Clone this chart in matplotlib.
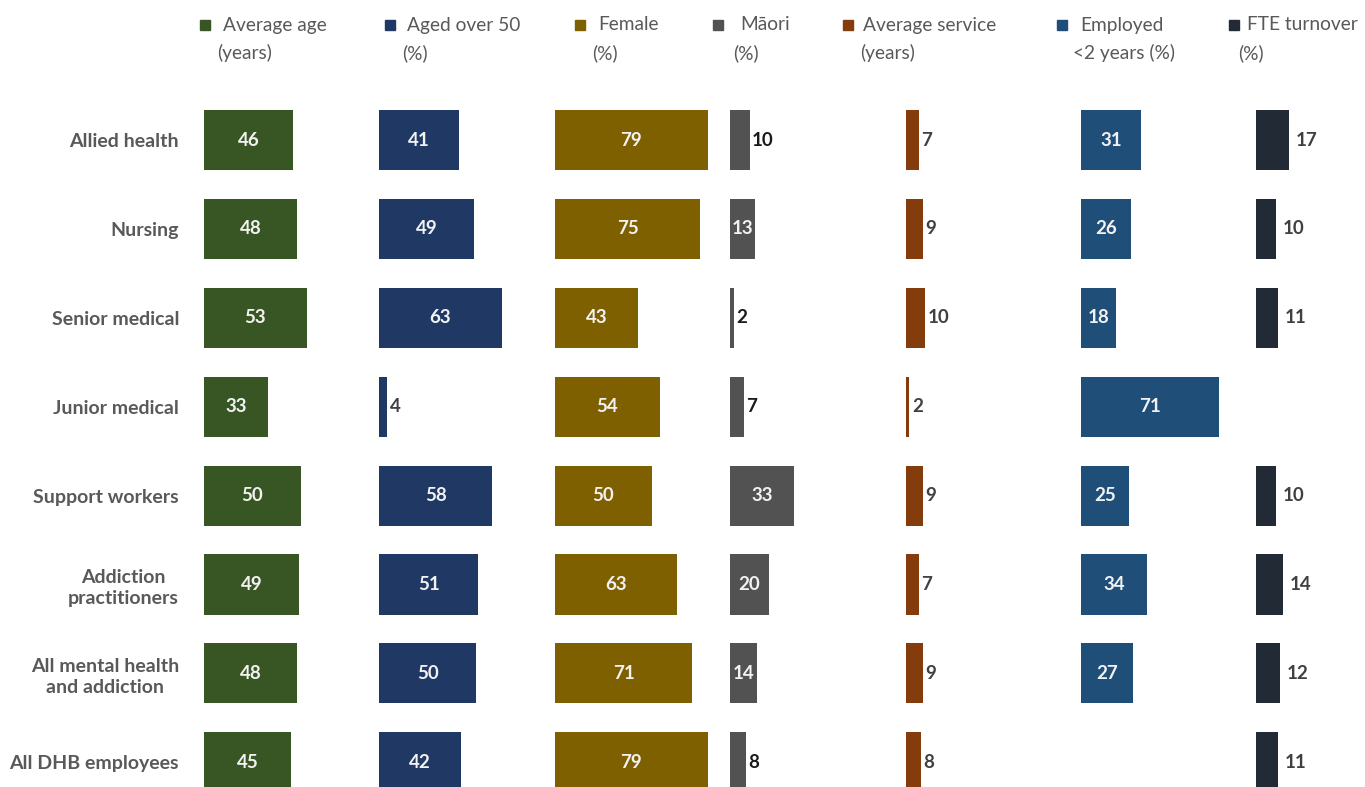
import matplotlib.pyplot as plt
from matplotlib.patches import Rectangle

plt.rcParams['font.family'] = ['Lato', 'DejaVu Sans']

groups = ["Allied health", "Nursing", "Senior medical", "Junior medical",
          "Support workers", "Addiction\npractitioners",
          "All mental health\nand addiction", "All DHB employees"]

legend_line1 = ["Average age", "Aged over 50", "Female", "Māori",
                "Average service", "Employed", "FTE turnover"]
legend_line2 = ["(years)", "(%)", "(%)", "(%)", "(years)", "<2 years (%)", "(%)"]

avg_age = [46, 48, 53, 33, 50, 49, 48, 45]
aged_over_50 = [41, 49, 63, 4, 58, 51, 50, 42]
female = [79, 75, 43, 54, 50, 63, 71, 79]
maori = [10, 13, 2, 7, 33, 20, 14, 8]
avg_service = [7, 9, 10, 2, 9, 7, 9, 8]
employed_lt2 = [31, 26, 18, 71, 25, 34, 27, None]
fte_turnover = [17, 10, 11, None, 10, 14, 12, 11]

all_series = [avg_age, aged_over_50, female, maori, avg_service, employed_lt2, fte_turnover]
colors = ["#375623", "#1F3864", "#7F6000", "#525252", "#843C0C", "#1F4E79", "#222A35"]

# legend layout (figure pixels from left)
legend_marker_x = [200, 385, 575, 713, 843, 1057, 1229]
legend_text_x = [223, 407, 598, 740, 863, 1080, 1247]
legend_text2_x = [217, 402, 592, 733, 860, 1073, 1238]

W, H = 1365, 787
fig = plt.figure(figsize=(W / 100, H / 100), dpi=100)
left_px, top_px = 204, 95
ax = fig.add_axes([left_px / W, 0, 1 - left_px / W, 1 - top_px / H])

px_per_unit = 1.94
col_step = 90.4
xmax = (W - left_px) / px_per_unit
row_step_px = 88.9
y_top = (top_px - 140) / row_step_px
y_bot = y_top + (H - top_px) / row_step_px

rows = list(range(len(groups)))
bar_h = 0.675
label_grey = "#595959"

for k, (vals, c) in enumerate(zip(all_series, colors)):
    off = k * col_step
    for i, v in zip(rows, vals):
        if v is None:
            continue
        ax.barh(i, v, left=off, height=bar_h, color=c)
        if v >= 12 and k != 6:
            ax.text(off + v / 2, i, str(v), ha='center', va='center',
                    color='#F2F2F2', fontsize=13.5, fontweight='bold')
        else:
            gap = 3.5 if k == 6 else 1.3
            ax.text(off + v + gap, i, str(v), ha='left', va='center',
                    color='#1A1A1A' if k == 3 else '#404040',
                    fontsize=13.5, fontweight='bold')

ax.set_xlim(0, xmax)
ax.set_ylim(y_bot, y_top)
ax.set_yticks(rows)
ax.set_yticklabels(groups, fontsize=14, fontweight='bold', color=label_grey,
                   linespacing=1.3)
for lab in ax.get_yticklabels():
    lab.set_multialignment('center')
ax.tick_params(axis='y', length=0, pad=18)
ax.set_xticks([])
for s in ax.spines.values():
    s.set_visible(False)

# legend across the top
sq = 10
for t1, t2, c, mx, tx, tx2 in zip(legend_line1, legend_line2, colors,
                                  legend_marker_x, legend_text_x, legend_text2_x):
    fig.patches.append(Rectangle((mx / W, 1 - (25 + sq / 2) / H), sq / W, sq / H,
                                 transform=fig.transFigure, color=c))
    fig.text(tx / W, 1 - 25 / H, t1, ha='left', va='center',
             fontsize=13.8, color=label_grey)
    fig.text(tx2 / W, 1 - 53 / H, t2, ha='left', va='center',
             fontsize=13.8, color=label_grey)

fig.savefig("out.png", dpi=100)
